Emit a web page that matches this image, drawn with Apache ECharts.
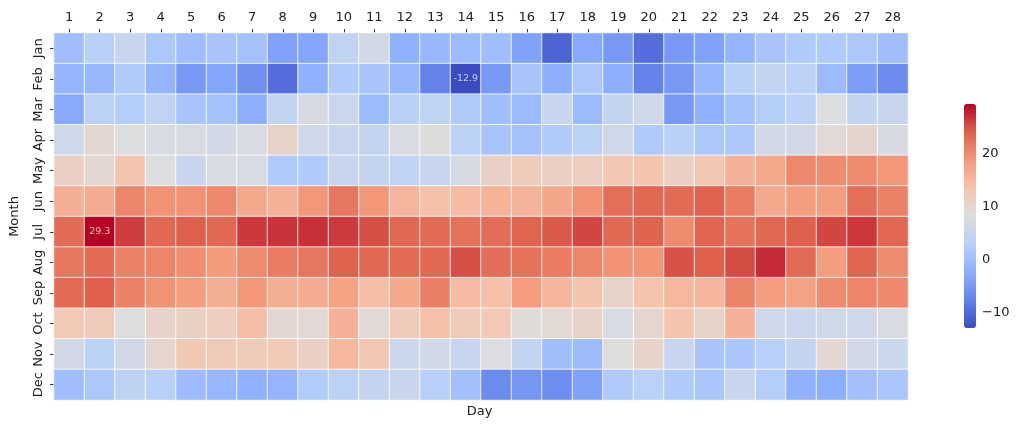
<!DOCTYPE html>
<html>
<head>
<meta charset="utf-8">
<script src="https://cdn.jsdelivr.net/npm/echarts@6/dist/echarts.min.js"></script>
<style>html,body{margin:0;padding:0;background:#fff}#c{width:1024px;height:429px}</style>
</head>
<body>
<div id="c"></div>
<script>
var days = ['1','2','3','4','5','6','7','8','9','10','11','12','13','14','15','16','17','18','19','20','21','22','23','24','25','26','27','28'];
var months = ['Jan','Feb','Mar','Apr','May','Jun','Jul','Aug','Sep','Oct','Nov','Dec'];
var jan = [0,3,5,1.5,0,1,0.5,-4,-3.5,4,6.5,-2,-1,-0.5, 0,-4,-10.5,-3,-5,-9.5,-5,-4,-1.5,1,2,2,1.5,0];
var feb = [-1.5,-1,2,-1.5,-5,-3.5,-6,-9.5,-2,2,1,-1,-7.5,-12.9, -5,1,-2.5,1.5,-2.5,-7.5,-5,-1,3,4.5,3.5,-0.5,-4.5,-6.5];
var mar = [-3,3.5,2.5,4,1,0.5,-2.5,4.5,7,5.5,-0.5,3,4,2, 0,-0.5,5,-0.5,4.5,6,-5,-2,0.5,2.5,3.5,8,4.5,5];
var apr = [6,9.5,8,7.5,7.5,6.5,7.5,10.5,6,5,4.5,7.5,8.5,3.5, 1,0.5,2,3.5,6,2,3,1.5,1.5,6.5,6.5,9,10,7];
var may = [11,9.5,13.5,8,5,7.5,7.5,2,2,5,4.5,4,5,7, 11,12,11,11.5,13,13.5,11,13,15.8,17,20.4,20,20,19];
var jun = [16.2,16.5,20.5,19.5,19.5,20.3,17,16,19,22,19,15.3,14,14.5, 15.5,15.5,17.2,19.5,22.7,23.3,23,23.8,21.5,17,18.2,18.2,22.7,21];
var jul = [23,29.3,26,23.3,24.1,23.3,26.3,26.6,26.8,26.2,25,23.3,23,22.3, 22.8,23.6,24.4,25.5,23.2,23.7,20,23.6,22.3,23.3,24,25.5,26.4,23.4];
var aug = [21.8,23,21,20.7,19.8,18.6,20.2,21.5,22,23.8,23.2,23,23.3,25, 22.8,22.3,21.5,20.7,19.5,19.2,24.8,24,25.2,27,23,18.2,23.6,20];
var sep = [23,24,21,19.5,18.2,16.3,19,16.3,16.5,17.8,14.2,17,21.2,14.5, 14,18.5,15.3,13.5,10.5,13.5,15,15.2,20.8,18.3,17.8,20,20.6,20.3];
var oct = [12.5,12,8,10.3,11,11.5,14.3,9.5,9.2,15.8,9.2,12.3,14,12, 12.5,8.8,9.2,10.5,7.5,9.8,13.5,10.3,15.8,6.2,5.5,6,6,7.5];
var nov = [6.5,3.5,6.3,9.8,12.7,12.3,12.3,12.4,11,15,13,5.7,6.5,5, 8,4.5,0,-0.3,8.3,10.2,5,1,1.3,2.8,4.7,9.5,6.5,5.7];
var dec = [0,1.5,3.8,3,-0.3,-1.3,-2,-1.5,2.2,3.5,4.7,5.2,2.8,0.3, -6.5,-5.3,-6.2,-4,1.7,3.2,2,1.3,5,2.5,-2,-2.5,0.3,1.3];
var rows = [jan,feb,mar,apr,may,jun,jul,aug,sep,oct,nov,dec];
var cbTicks = [-10, 0, 10, 20];

var vmin = Infinity, vmax = -Infinity;
rows.forEach(function(r){ r.forEach(function(v){ if(v<vmin)vmin=v; if(v>vmax)vmax=v; }); });
var data = [];
rows.forEach(function(r, yi){
  r.forEach(function(v, xi){
    var item = {value:[xi, yi, v]};
    if (v === vmin || v === vmax) item.label = {show:true};
    data.push(item);
  });
});

var F = 'DejaVu Sans';
var chart = echarts.init(document.getElementById('c'));
chart.setOption({
  backgroundColor:'#fff',
  animation:false,
  textStyle:{fontFamily:F},
  grid:[
    {left:51, top:33, width:857, height:367},
    {left:964, top:104, width:12, height:224}
  ],
  xAxis:[
    {type:'category', data:days, position:'top', gridIndex:0,
     axisLine:{show:false},
     axisTick:{show:true, alignWithLabel:true, interval:0, length:4, lineStyle:{color:'#333'}},
     axisLabel:{fontFamily:F, fontSize:13, color:'#222', margin:9, interval:0},
     splitLine:{show:false}},
    {type:'value', gridIndex:1, show:false, min:0, max:1}
  ],
  yAxis:[
    {type:'category', data:months, inverse:true, gridIndex:0,
     axisLine:{show:false},
     axisTick:{show:true, alignWithLabel:true, interval:0, length:4, lineStyle:{color:'#333'}},
     axisLabel:{fontFamily:F, fontSize:13, color:'#222', rotate:90, margin:9, interval:0},
     name:'Month', nameLocation:'middle', nameGap:33, nameRotate:90,
     nameTextStyle:{fontFamily:F, fontSize:13, color:'#222'}},
    {type:'value', gridIndex:1, min:vmin, max:vmax, position:'right',
     axisLine:{show:false},
     axisTick:{show:true, length:4, lineStyle:{color:'#333'}, customValues:cbTicks},
     axisLabel:{fontFamily:F, fontSize:13, color:'#222', margin:6, customValues:cbTicks,
       formatter:function(v){ return v<0 ? '\u2212'+Math.abs(v) : String(v); }},
     splitLine:{show:false}}
  ],
  visualMap:{
    type:'continuous', min:vmin, max:vmax, seriesIndex:0, calculable:false,
    left:964, top:104, itemWidth:12, itemHeight:224, padding:0, text:null, showLabel:false,
    inRange:{color:['#3b4cc0','#6282ea','#8db0fe','#b8d0f9','#dddddd','#f5c4ad','#f49a7b','#de604d','#b40426']}
  },
  graphic:[
    {type:'text', style:{text:'Day', x:479.5, y:412, textAlign:'center', textVerticalAlign:'middle', font:'13px "DejaVu Sans"', fill:'#222'}}
  ],
  series:[
    {type:'heatmap', xAxisIndex:0, yAxisIndex:0, data:data,
     itemStyle:{borderColor:'#fff', borderWidth:0.8},
     label:{show:false, fontFamily:F, fontSize:9.5, color:'rgba(255,255,255,0.7)',
       formatter:function(p){ return p.value[2].toFixed(1); }},
     emphasis:{disabled:true}},
    {type:'scatter', xAxisIndex:1, yAxisIndex:1, data:[], silent:true}
  ]
});
</script>
</body>
</html>
